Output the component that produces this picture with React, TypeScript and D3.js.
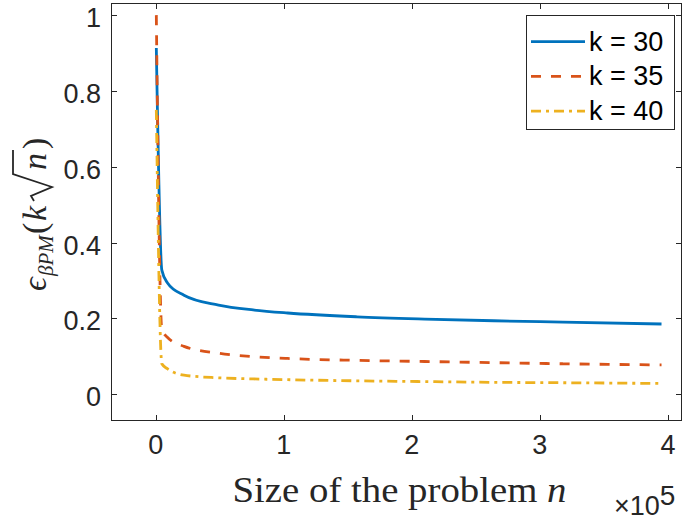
import React from "react";
import * as d3 from "d3";

// ---- data ----
const problemSize = [400, 4700, 9000, 22000, 49000, 76000, 103000, 157000, 210000, 264000, 318000, 395000];
const errK30 = [0.913, 0.327, 0.294, 0.261, 0.235, 0.222, 0.214, 0.204, 0.198, 0.1935, 0.19, 0.185];
const errK35 = [1.0, 0.17, 0.15, 0.126, 0.108, 0.099, 0.094, 0.089, 0.086, 0.083, 0.08, 0.077];
const errK40 = [0.75, 0.08, 0.067, 0.05, 0.043, 0.04, 0.038, 0.035, 0.033, 0.031, 0.03, 0.028];
const seriesLabels = ["k = 30", "k = 35", "k = 40"];
const xTicks = [0, 100000, 200000, 300000, 400000];
const xTickLabels = ["0", "1", "2", "3", "4"];
const yTicks = [0, 0.2, 0.4, 0.6, 0.8, 1];
const yTickLabels = ["0", "0.2", "0.4", "0.6", "0.8", "1"];

const W = 689, H = 520;
const L = 111, R = 682, T = 3, B = 421;
const axisColor = "#262626";
const sans = "Liberation Sans, Arial, sans-serif";
const serif = "Liberation Serif, Times New Roman, serif";

const colors = ["#0072BD", "#D95319", "#EDB120"];
const dashes = [undefined, "10,10", "10,5,3,5"];

export default function App() {
  const x = d3.scaleLinear().domain([-35000, 411000]).range([L, R]);
  const y = d3.scaleLinear().domain([-0.071, 1.032]).range([B, T]);
  const series = [errK30, errK35, errK40];
  const line = d3
    .line<number>()
    .x((_, i) => x(problemSize[i]))
    .y((d) => y(d))
    .curve(d3.curveMonotoneX);
  const tickLen = 6;

  return (
    <svg width={W} height={H} style={{ position: "absolute", left: 0, top: 0, background: "#fff" }}>
      <defs>
        <clipPath id="plotclip">
          <rect x={L} y={T} width={R - L} height={B - T} />
        </clipPath>
      </defs>
      <rect x={0} y={0} width={W} height={H} fill="#fff" />
      {/* series */}
      <g clipPath="url(#plotclip)">
        {series.map((s, k) => (
          <path
            key={k}
            d={line(s) || ""}
            fill="none"
            stroke={colors[k]}
            strokeWidth={2.8}
            strokeDasharray={dashes[k]}
            strokeLinejoin="round"
          />
        ))}
      </g>
      {/* box */}
      <rect x={L + 0.5} y={T + 0.5} width={R - L - 1} height={B - T - 1} fill="none" stroke={axisColor} strokeWidth={1} />
      {/* x ticks */}
      {xTicks.map((t, i) => {
        const px = Math.round(x(t)) + 0.5;
        return (
          <g key={"xt" + i}>
            <line x1={px} x2={px} y1={B} y2={B - tickLen} stroke={axisColor} />
            <line x1={px} x2={px} y1={T} y2={T + tickLen} stroke={axisColor} />
            <text x={x(t)} y={454} textAnchor="middle" fontFamily={sans} fontSize={27} fill={axisColor}>
              {xTickLabels[i]}
            </text>
          </g>
        );
      })}
      {/* y ticks */}
      {yTicks.map((t, i) => {
        const py = Math.round(y(t)) + 0.5;
        return (
          <g key={"yt" + i}>
            <line x1={L} x2={L + tickLen} y1={py} y2={py} stroke={axisColor} />
            <line x1={R} x2={R - tickLen} y1={py} y2={py} stroke={axisColor} />
            <text x={101} y={y(t) + 12} textAnchor="end" fontFamily={sans} fontSize={27} fill={axisColor}>
              {yTickLabels[i]}
            </text>
          </g>
        );
      })}
      {/* x exponent */}
      <text x={614} y={515} fontFamily={sans} fontSize={27} fill={axisColor}>
        ×10
        <tspan dy={-10} fontSize={28}>5</tspan>
      </text>
      {/* x label */}
      <text
        x={(L + R) / 2 + 3}
        y={502}
        textAnchor="middle"
        fontFamily={serif}
        fontSize={36}
        textLength={334}
        lengthAdjust="spacingAndGlyphs"
        fill={axisColor}
      >
        Size of the problem <tspan fontStyle="italic">n</tspan>
      </text>
      {/* y label */}
      <g transform={`translate(46, ${(T + B) / 2}) rotate(-90)`} fill={axisColor} fontFamily={serif}>
        <text x={-79} y={0} fontSize={34} fontStyle="italic">ϵ</text>
        <text x={-64} y={7} fontSize={21} fontStyle="italic">βPM</text>
        <text x={-22} y={0} fontSize={34}>(</text>
        <text x={-9} y={0} fontSize={34} fontStyle="italic">k</text>
        <path
          d="M 11 -12 L 16 -15 L 25 6 L 38 -33 L 62 -33"
          fill="none"
          stroke={axisColor}
          strokeWidth={1.8}
          strokeLinejoin="miter"
        />
        <text x={42} y={0} fontSize={34} fontStyle="italic">n</text>
        <text x={63} y={0} fontSize={34}>)</text>
      </g>
      {/* legend */}
      <rect x={526.5} y={15.5} width={148} height={114} fill="#fff" stroke={axisColor} strokeWidth={1} />
      {seriesLabels.map((lab, k) => {
        const ly = 41.7 + k * 34.7;
        return (
          <g key={"lg" + k}>
            <line x1={531} x2={585} y1={ly} y2={ly} stroke={colors[k]} strokeWidth={2.8} strokeDasharray={dashes[k]} />
            <text x={589} y={ly + 9} fontFamily={sans} fontSize={27} fill="#000">
              {lab}
            </text>
          </g>
        );
      })}
    </svg>
  );
}
